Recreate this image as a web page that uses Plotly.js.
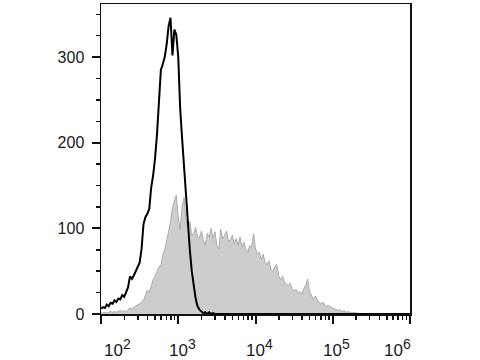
<!DOCTYPE html>
<html>
<head>
<meta charset="utf-8">
<script src="https://cdn.plot.ly/plotly-3.0.1.min.js"></script>
<style>
html,body{margin:0;padding:0;background:#fff;}
#chart{width:480px;height:360px;}
</style>
</head>
<body>
<div id="chart"></div>
<script>
// Histogram bins: log10 of the channel value, 2.000 to 6.000 in steps of 0.025
const binStart = 2.0;
const binStep = 0.025;
const binCount = 161;

// Stained sample (gray filled histogram), counts per bin
const stainedCounts = [
  2, 1, 2, 1, 2, 3, 2, 3, 2, 3,
  4, 3, 4, 3, 5, 7, 6, 8, 9, 11,
  12, 14, 16, 22, 28, 25, 34, 40, 44, 50,
  55, 56, 70, 75, 84, 96, 108, 124, 132, 139,
  112, 99, 126, 136, 110, 100, 108, 92, 94, 101,
  90, 89, 97, 86, 80, 94, 90, 100, 88, 96,
  80, 76, 99, 88, 92, 97, 85, 86, 92, 82,
  88, 80, 90, 78, 84, 76, 72, 80, 78, 94,
  76, 70, 72, 64, 70, 60, 58, 62, 52, 50,
  55, 58, 45, 40, 44, 38, 35, 33, 36, 29,
  27, 29, 24, 26, 23, 30, 34, 41, 26, 22,
  17, 21, 16, 14, 12, 14, 10, 9, 10, 8,
  7, 6, 5, 4, 5, 3, 4, 2, 3, 2,
  1, 2, 1, 1, 0, 0, 0, 0, 0, 0,
  0, 0, 0, 0, 0, 0, 0, 0, 0, 0,
  0, 0, 0, 0, 0, 0, 0, 0, 0, 0,
  0
];

// Control sample (black line histogram), counts per bin
const controlCounts = [
  6, 8, 7, 11, 9, 13, 12, 16, 14, 18,
  17, 22, 20, 26, 31, 44, 41, 45, 50, 53,
  60, 76, 105, 113, 117, 123, 148, 162, 182, 210,
  250, 285, 292, 300, 315, 336, 346, 302, 332, 326,
  300, 240, 205, 170, 135, 101, 75, 50, 32, 18,
  9, 5, 3, 1, 2, 0, 2, 0, 1, 0,
  0, 0, 0, 0, 0, 0, 0, 0, 0, 0,
  0, 0, 0, 0, 0, 0, 0, 0, 0, 0,
  0, 0, 0, 0, 0, 0, 0, 0, 0, 0,
  0, 0, 0, 0, 0, 0, 0, 0, 0, 0,
  0, 0, 0, 0, 0, 0, 0, 0, 0, 0,
  0, 0, 0, 0, 0, 0, 0, 0, 0, 0,
  0, 0, 0, 0, 0, 0, 0, 0, 0, 0,
  0, 0, 0, 0, 0, 0, 0, 0, 0, 0,
  0, 0, 0, 0, 0, 0, 0, 0, 0, 0,
  0, 0, 0, 0, 0, 0, 0, 0, 0, 0,
  0
];

// Axis ticks
const xMajorTicks = [100, 1000, 10000, 100000, 1000000];
const xTickBase = ['10', '10', '10', '10', '10'];
const xTickExponents = ['2', '3', '4', '5', '6'];
const xMinorTicks = [
  200, 300, 400, 500, 600, 700, 800, 900,
  2000, 3000, 4000, 5000, 6000, 7000, 8000, 9000,
  20000, 30000, 40000, 50000, 60000, 70000, 80000, 90000,
  200000, 300000, 400000, 500000, 600000, 700000, 800000, 900000
];
const yMajorTicks = [0, 100, 200, 300];

// label placement (log10 units) — edge labels are pulled inwards as in the original
const xLabelPos = [2.21, 3.06, 4.055, 5.05, 5.84];

const binValues = [];
for (let i = 0; i < binCount; i++) {
  binValues.push(Math.pow(10, binStart + i * binStep));
}

const traces = [
  {
    x: binValues,
    y: stainedCounts,
    type: 'scatter',
    mode: 'lines',
    fill: 'tozeroy',
    fillcolor: '#cdcdcd',
    line: {color: '#adadad', width: 1},
    hoverinfo: 'skip'
  },
  {
    x: binValues,
    y: controlCounts,
    type: 'scatter',
    mode: 'lines',
    line: {color: '#000000', width: 2},
    hoverinfo: 'skip'
  }
];

const yTickFont = {family: 'Liberation Sans, Arial, sans-serif', size: 16, color: '#1a1a1a'};
const xTickFont = {family: 'Liberation Sans, Arial, sans-serif', size: 17, color: '#1a1a1a'};

const annotations = xTickBase.map((b, i) => ({
  x: xLabelPos[i],
  xref: 'x',
  y: 0,
  yref: 'paper',
  yanchor: 'middle',
  xanchor: 'center',
  yshift: -34,
  text: b + '<sup><span style="font-size:14px">' + xTickExponents[i] + '</span></sup>',
  showarrow: false,
  font: xTickFont
}));

const layout = {
  width: 480,
  height: 360,
  margin: {l: 101, r: 70, t: 4, b: 46, pad: 0},
  paper_bgcolor: '#ffffff',
  plot_bgcolor: '#ffffff',
  showlegend: false,
  xaxis: {
    type: 'log',
    range: [2, 6],
    showgrid: false,
    zeroline: false,
    showline: true,
    mirror: true,
    linecolor: '#111',
    linewidth: 1.5,
    ticks: 'outside',
    ticklen: 8,
    tickwidth: 2,
    tickcolor: '#111',
    tickmode: 'array',
    tickvals: xMajorTicks,
    showticklabels: false,
    minor: {
      tickmode: 'array',
      tickvals: xMinorTicks,
      ticks: 'outside',
      ticklen: 4,
      tickwidth: 1.5,
      tickcolor: '#111',
      showgrid: false
    }
  },
  yaxis: {
    range: [0, 362],
    showgrid: false,
    zeroline: false,
    showline: true,
    mirror: true,
    linecolor: '#111',
    linewidth: 1.5,
    ticks: 'outside',
    ticklen: 8,
    tickwidth: 2,
    tickcolor: '#111',
    tickmode: 'array',
    tickvals: yMajorTicks,
    ticktext: yMajorTicks.map(String),
    tickfont: yTickFont,
    ticklabelstandoff: 4,
    minor: {
      dtick: 25,
      ticks: 'outside',
      ticklen: 4,
      tickwidth: 1.5,
      tickcolor: '#111',
      showgrid: false
    }
  },
  annotations: annotations
};

Plotly.newPlot('chart', traces, layout, {staticPlot: true, displayModeBar: false});
</script>
</body>
</html>
